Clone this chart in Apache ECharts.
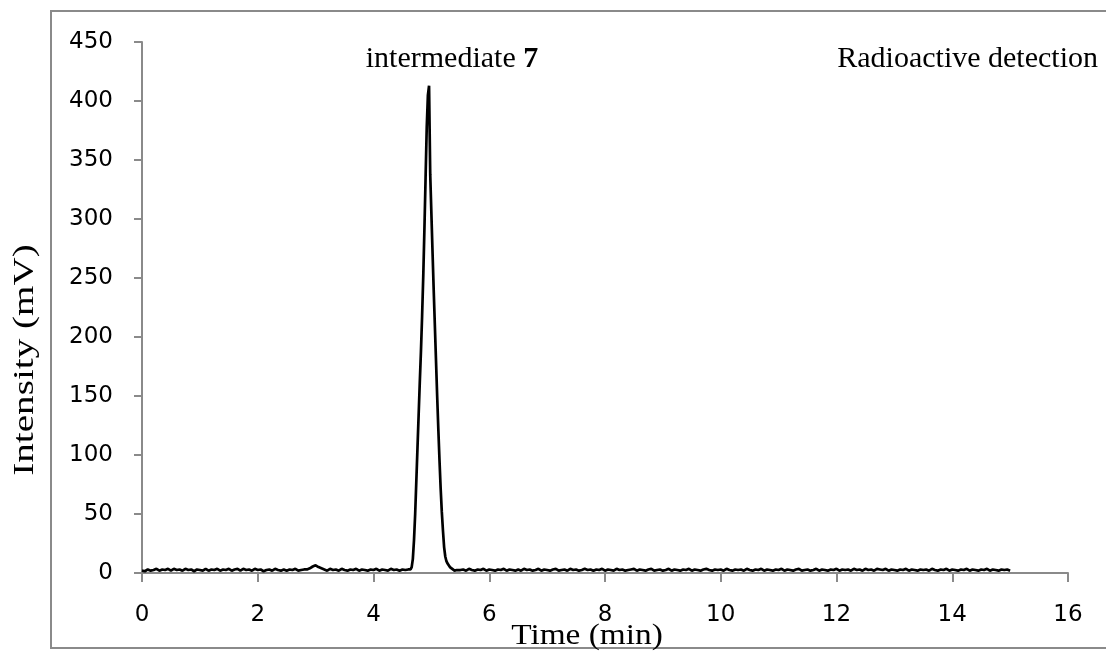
<!DOCTYPE html>
<html>
<head>
<meta charset="utf-8">
<script src="https://cdn.jsdelivr.net/npm/echarts@6/dist/echarts.min.js"></script>
<style>
html,body{margin:0;padding:0;background:#fff;}
#chart{width:1106px;height:651px;}
</style>
</head>
<body>
<div id="chart"></div>
<script>
// Radioactive HPLC trace — intensity (mV) sampled vs time (min)
// Segment A: 0.00 – 4.55 min, every 0.05 min
const baselineA = [
  2, 1.5, 3, 2, 2.5, 3.5, 2, 3, 2.5, 3.5,
  2, 3.5, 2.5, 3, 2, 3.5, 2.5, 3, 1.5, 3,
  2.5, 2, 3.5, 2, 3, 2.5, 3.5, 2, 3, 2.5,
  3.5, 2, 3, 3.5, 2, 3.5, 2.5, 3, 2, 3.5,
  2.5, 3, 1.5, 2.5, 3, 2, 3.5, 2.5, 2, 3,
  2, 3, 2.5, 3.5, 2, 2.5, 3, 3, 4, 5.5,
  6.5, 5, 4, 3, 2, 3.5, 2.5, 3, 2, 3.5,
  2.5, 2, 3, 2.5, 3.5, 2, 3, 2.5, 2, 3,
  2.5, 3.5, 2, 3, 2.5, 2, 3.5, 2.5, 3, 2,
  3, 2.5
];
// Segment P: 4.60 – 5.44 min, every 0.02 min (peak of intermediate 7)
const peakValues = [
  3, 2, 3, 5, 12, 28, 50, 78, 106, 134,
  162, 188, 218, 252, 292, 335, 378, 405, 413, 338,
  305, 272, 240, 210, 180, 150, 122, 96, 72, 52,
  36, 22, 14, 10, 8, 7, 5, 4, 3.5, 3,
  2, 3, 2.5
];
// Segment B: 5.50 – 15.00 min, every 0.05 min
const baselineB = [
  2.5, 3, 2, 3.5, 2.5, 2, 3, 2.5, 3.5, 2,
  3, 2.5, 2, 3, 2.5, 3.5, 2, 3, 2.5, 2,
  3, 2, 3.5, 2.5, 3, 2, 2.5, 3.5, 2, 3,
  2.5, 2, 3, 3.5, 2, 2.5, 3, 2, 3.5, 2.5,
  3, 2, 2.5, 3.5, 2.5, 3, 2, 3, 2.5, 3.5,
  2, 3, 2.5, 2, 3.5, 2.5, 3, 2, 2.5, 3,
  3.5, 2, 3, 2.5, 2, 3, 3.5, 2, 2.5, 3,
  2, 2.5, 3.5, 2, 3, 2.5, 2, 3, 2.5, 3.5,
  2, 3, 2.5, 2, 3, 3.5, 2.5, 2, 3, 2.5,
  3, 2, 3.5, 2.5, 2, 3, 2.5, 3, 2, 3.5,
  2.5, 2, 3, 2.5, 3.5, 2, 3, 2.5, 2, 3,
  2.5, 3.5, 2, 3, 2.5, 2, 3, 3.5, 2, 2.5,
  3, 2, 2.5, 3.5, 2, 3, 2.5, 2, 3, 2.5,
  3.5, 2, 3, 2.5, 3, 2, 3.5, 2.5, 3, 2,
  3.5, 2.5, 3, 2, 3.5, 3, 2.5, 3.5, 2, 3,
  2.5, 2, 3, 2.5, 3.5, 2, 3, 2.5, 2, 3,
  2.5, 3, 2, 3.5, 2.5, 2, 3, 2.5, 3.5, 2,
  3, 2.5, 2, 3, 2.5, 3.5, 2, 3, 2.5, 2,
  3, 2.5, 3.5, 2, 3, 2.5, 2, 3, 2.5, 3,
  2
];
const segments = [
  { start: 0.00, step: 0.05, values: baselineA },
  { start: 4.60, step: 0.02, values: peakValues },
  { start: 5.50, step: 0.05, values: baselineB }
];
const xTicks = { min: 0, max: 16, interval: 2 };
const yTicks = { min: 0, max: 450, interval: 50 };
const peakLabel = 'intermediate ';
const peakNumber = '7';
const detectorLabel = 'Radioactive detection';
const xName = 'Time (min)';
const yName = 'Intensity (mV)';

const trace = [];
segments.forEach(s => s.values.forEach((v, i) => trace.push([+(s.start + i * s.step).toFixed(2), v])));

const axisGray = '#8a8a8a';
const tickFont = { fontFamily: 'DejaVu Sans', fontSize: 23, color: '#000' };
const serif = 'Liberation Serif';
const serifSize = 30;

const chart = echarts.init(document.getElementById('chart'), null, { renderer: 'canvas' });
chart.setOption({
  animation: false,
  backgroundColor: '#fff',
  grid: { left: 142, right: 38, top: 42, bottom: 78, containLabel: false, outerBoundsMode: 'none' },
  title: [
    {
      text: peakLabel + '{b|' + peakNumber + '}',
      left: 447, top: 39, textAlign: 'center',
      textStyle: {
        fontFamily: serif, fontSize: serifSize, fontWeight: 'normal', color: '#000',
        rich: { b: { fontFamily: serif, fontSize: serifSize, fontWeight: 'bold', color: '#000' } }
      }
    },
    {
      text: detectorLabel,
      right: 3, top: 39,
      textStyle: { fontFamily: serif, fontSize: serifSize, fontWeight: 'normal', color: '#000' }
    }
  ],
  graphic: [
    {
      type: 'rect', silent: true, z: -1,
      shape: { x: 51, y: 11, width: 1070, height: 637 },
      style: { fill: 'none', stroke: axisGray, lineWidth: 2 }
    },
    {
      type: 'text', silent: true,
      x: 587, y: 636, scaleX: 1.15,
      style: { text: xName, font: '29px "' + serif + '"', fill: '#000', align: 'center', verticalAlign: 'middle' }
    },
    {
      type: 'text', silent: true,
      x: 25, y: 360, rotation: Math.PI / 2, scaleX: 1.35,
      style: { text: yName, font: '29px "' + serif + '"', fill: '#000', align: 'center', verticalAlign: 'middle' }
    }
  ],
  xAxis: {
    type: 'value', min: xTicks.min, max: xTicks.max, interval: xTicks.interval,
    axisLine: { show: true, onZero: false, lineStyle: { color: axisGray, width: 2 } },
    axisTick: { show: true, inside: false, length: 9, lineStyle: { color: axisGray, width: 2 } },
    axisLabel: Object.assign({ margin: 31 }, tickFont),
    splitLine: { show: false }
  },
  yAxis: {
    type: 'value', min: yTicks.min, max: yTicks.max, interval: yTicks.interval,
    axisLine: { show: true, lineStyle: { color: axisGray, width: 2 } },
    axisTick: { show: true, inside: false, length: 8, lineStyle: { color: axisGray, width: 2 } },
    axisLabel: Object.assign({ margin: 29 }, tickFont),
    splitLine: { show: false }
  },
  series: [{
    type: 'line',
    data: trace,
    showSymbol: false,
    symbol: 'none',
    smooth: false,
    lineStyle: { color: '#000', width: 2.7 },
    z: 3
  }]
});
</script>
</body>
</html>
